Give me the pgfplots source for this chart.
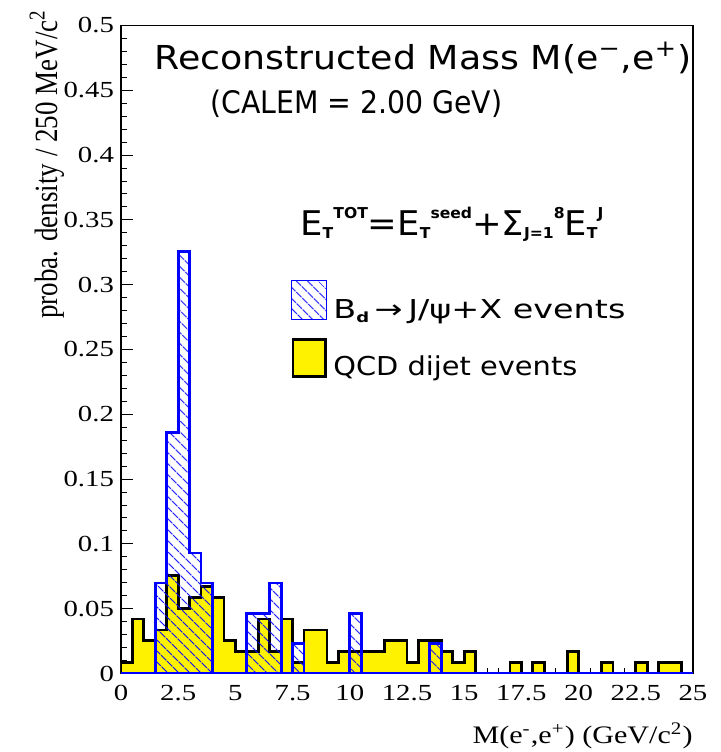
\documentclass[border=0pt]{standalone}
\usepackage{fontspec}
\setmainfont{Liberation Serif}[FakeStretch=1.25]
\newfontfamily\plainserif{Liberation Serif}
\newfontfamily\rootfont{DejaVu Sans}
\usepackage{graphicx}
\usepackage{pgfplots}
\pgfplotsset{compat=1.18}
\usetikzlibrary{patterns.meta}

\newcommand{\Sb}[1]{\raisebox{-2pt}{\fontsize{7.5}{8}\selectfont\bfseries #1}}
\newcommand{\Sp}[1]{\raisebox{8.5pt}{\fontsize{7.5}{8}\selectfont\bfseries #1}}
\newcommand{\Lsb}[1]{\raisebox{-2pt}{\fontsize{7}{8}\selectfont\bfseries #1}}

\begin{document}
\begin{tikzpicture}
\useasboundingbox (-60.5pt,-39.25pt) rectangle (300pt,336.75pt);
\begin{axis}[
  at={(0pt,0pt)}, anchor=south west,
  scale only axis, width=286pt, height=324pt,
  xmin=0, xmax=25, ymin=0, ymax=0.5,
  xtick={0,2.5,5,7.5,10,12.5,15,17.5,20,22.5,25},
  ytick={0,0.05,0.1,0.15,0.2,0.25,0.3,0.35,0.4,0.45,0.5},
  minor x tick num=4, minor y tick num=4,
  tick pos=left, tick align=inside,
  major tick length=6pt, minor tick length=3pt,
  tick style={black, line width=0.5pt},
  axis line style={line width=0.6pt},
  scaled ticks=false,
  /pgf/number format/fixed, /pgf/number format/precision=2,
  /pgf/number format/assume math mode=true,
  tick label style={font=\fontsize{11.5}{14}\selectfont},
  xticklabel style={yshift=-2.5pt},
  xlabel={\resizebox{110pt}{\height}{\plainserif\fontsize{12.6}{15}\selectfont M(e\textsuperscript{-},e\textsuperscript{+}) (GeV/c\textsuperscript{2})}},
  xlabel style={at={(axis description cs:1,0)}, anchor=base east, yshift=-34.75pt, inner sep=0pt},
  ylabel={\scalebox{1}[1.2]{\plainserif\fontsize{13.5}{16}\selectfont proba. density / 250 MeV/c\textsuperscript{2}}},
  ylabel style={at={(axis description cs:-0.1294,1.0247)}, anchor=east, inner sep=0pt},
]
% QCD dijet events (yellow)
\addplot[const plot, fill=yellow, draw=black, line width=1.4pt, line join=miter] coordinates {
(0,0) (0,0.0084) (0.5,0.042) (1,0.0252) (1.5,0.0336) (2,0.0756) (2.5,0.0504) (3,0.0588) (3.5,0.0672)
(4,0.0588) (4.5,0.0252) (5,0.0168) (5.5,0.0168) (6,0.042) (6.5,0.0168) (7,0.042) (7.5,0.0084)
(8,0.0336) (8.5,0.0336) (9,0.0084) (9.5,0.0168) (10,0.0168) (10.5,0.0168) (11,0.0168)
(11.5,0.0252) (12,0.0252) (12.5,0.0084) (13,0.0252) (13.5,0.0252) (14,0.0168) (14.5,0.0084)
(15,0.0168) (15.5,0) (16,0) (16.5,0) (17,0.0084) (17.5,0) (18,0.0084) (18.5,0) (19,0)
(19.5,0.0168) (20,0) (20.5,0) (21,0.0084) (21.5,0) (22,0) (22.5,0.0084) (23,0) (23.5,0.0084)
(24,0.0084) (24.5,0) (25,0)
} \closedcycle;
% B_d -> J/psi + X events (blue hatched)
\addplot[const plot, draw=blue, line width=1.4pt, line join=miter,
  pattern={Lines[angle=-45,distance=4pt,line width=0.5pt]}, pattern color=blue] coordinates {
(0,0) (1.5,0.0698) (2,0.1861) (2.5,0.3256) (3,0.0930) (3.5,0.0698) (4,0) (5.5,0.0465)
(6,0.0465) (6.5,0.0698) (7,0) (7.5,0.0233) (8,0) (10,0.0465) (10.5,0) (13.5,0.0233) (14,0) (25,0)
} \closedcycle;
\end{axis}
% annotations
\node[anchor=base west, inner sep=0pt] at (16.5pt,302.25pt)
  {\resizebox{268.5pt}{\height}{\rootfont\fontsize{16.5}{18}\selectfont Reconstructed Mass M(e\textsuperscript{−},e\textsuperscript{+})}};
\node[anchor=base west, inner sep=0pt] at (44.5pt,280pt)
  {\resizebox{146pt}{\height}{\rootfont\fontsize{15.5}{18}\selectfont (CALEM = 2.00 GeV)}};
\node[anchor=base west, inner sep=0pt] at (89.5pt,219.25pt)
  {\resizebox{151.5pt}{\height}{\rootfont\fontsize{17}{20}\selectfont E\Sb{T}\Sp{TOT}=E\Sb{T}\Sp{seed}+Σ\Sb{J=1}\Sp{8}E\Sb{T}\Sp{J}}};
% legend
\draw[blue, line width=0.5pt, pattern={Lines[angle=-45,distance=4pt,line width=0.5pt]}, pattern color=blue]
  (85.3pt,177.25pt) rectangle (102.9pt,196.75pt);
\draw[black, line width=1.4pt, fill=yellow] (86pt,148.5pt) rectangle (102.2pt,167pt);
\node[anchor=base west, inner sep=0pt] at (106pt,177.75pt)
  {\resizebox{146pt}{\height}{\rootfont\fontsize{13}{15}\selectfont B\Lsb{d}\,→\,J/ψ+X events}};
\node[anchor=base west, inner sep=0pt] at (106pt,149.25pt)
  {\resizebox{122pt}{\height}{\rootfont\fontsize{13}{15}\selectfont QCD dijet events}};
\end{tikzpicture}
\end{document}
